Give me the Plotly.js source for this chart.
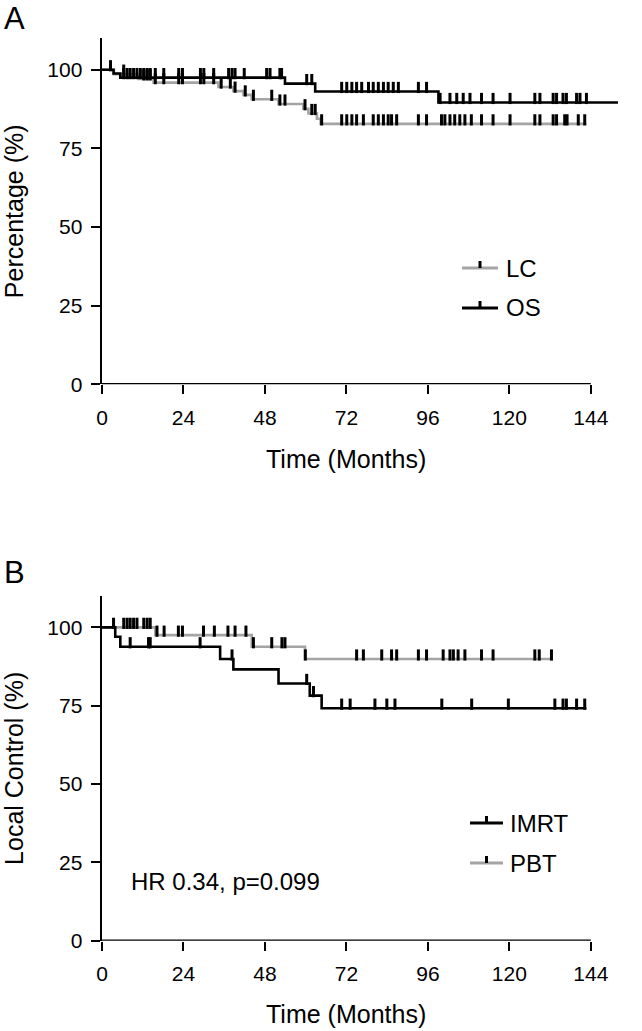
<!DOCTYPE html>
<html>
<head>
<meta charset="utf-8">
<script src="https://cdn.plot.ly/plotly-3.0.1.min.js"></script>
<style>html,body{margin:0;padding:0;background:#fff;}#chart{width:642px;height:1031px;}</style>
</head>
<body>
<div id="chart"></div>
<script>
// ---------------- DATA ----------------
// Panel A
const lcTime = [0, 3.5, 10.8, 15.2, 34.3, 38.7, 41.7, 44.1, 52.0, 59.3, 60.8, 63.3, 64.4];
const lcSurv = [100, 98.6, 97.1, 95.9, 94.5, 93.2, 92.0, 90.6, 89.1, 87.6, 86.1, 84.4, 82.8];
const lcEnd = 142.7;
const lcCensor = [6.4, 12.3, 13.3, 14.2, 15.7, 18.2, 22.6, 23.7, 29.0, 30.0, 32.9, 35.1, 37.8, 39.2, 42.2, 44.6, 50.0, 52.4, 53.9, 59.8, 61.8, 62.8, 64.7, 70.6, 72.1, 73.6, 75.0, 77.0, 79.9, 81.4, 82.9, 84.3, 85.3, 86.8, 93.2, 95.6, 100.0, 101.0, 102.5, 103.9, 105.4, 106.9, 108.8, 111.8, 115.2, 120.2, 127.5, 129.0, 132.9, 133.9, 136.3, 137.0, 140.3, 142.2];

const osTime = [0, 3.4, 5.4, 53.9, 62.8, 99.1];
const osSurv = [100, 98.8, 97.5, 95.6, 93.1, 89.6];
const osEnd = 152;
const osCensor = [2.5, 6.4, 7.4, 8.3, 9.3, 10.3, 11.3, 12.3, 13.3, 14.2, 15.7, 18.2, 22.6, 23.7, 29.0, 30.0, 32.9, 37.3, 38.3, 39.2, 41.9, 48.5, 49.5, 52.4, 52.9, 60.3, 61.8, 70.6, 72.1, 73.6, 75.0, 76.5, 78.5, 79.9, 81.4, 82.9, 84.3, 85.8, 87.3, 93.2, 95.6, 99.6, 102.5, 104.5, 106.4, 108.4, 111.8, 115.2, 120.2, 127.5, 129.0, 132.9, 133.9, 135.8, 136.8, 139.8, 140.8, 142.7];

// Panel B
const imTime = [0, 3.9, 5.4, 34.8, 38.7, 52.0, 61.2, 64.7];
const imSurv = [100, 97.0, 93.8, 89.9, 86.6, 82.1, 78.2, 74.2];
const imEnd = 142.7;
const imCensor = [8.3, 13.7, 14.2, 28.9, 38.3, 60.3, 62.3, 70.6, 73.1, 80.4, 83.9, 86.3, 100.1, 108.9, 119.7, 133.4, 135.8, 136.8, 139.8, 142.2];

const pbTime = [0, 15.7, 44.1, 59.8];
const pbSurv = [100, 97.5, 93.8, 89.9];
const pbEnd = 132.4;
const pbCensor = [3.4, 6.4, 7.4, 8.3, 9.3, 10.3, 12.3, 13.3, 14.2, 16.2, 18.3, 22.5, 23.7, 29.9, 33.1, 37.1, 39.2, 42.4, 44.6, 50.0, 53.0, 53.9, 59.9, 75.0, 77.0, 82.4, 85.3, 86.8, 93.2, 95.6, 100.5, 102.5, 103.5, 104.9, 106.9, 111.8, 115.2, 127.5, 128.8, 132.4];

const xTicks = [0, 24, 48, 72, 96, 120, 144];
const yTicks = [0, 25, 50, 75, 100];
const legendA = ["LC", "OS"];
const legendB = ["IMRT", "PBT"];
const annotB = "HR 0.34, p=0.099";
const panelLabels = ["A", "B"];
const xTitle = "Time (Months)";
const yTitleA = "Percentage (%)";
const yTitleB = "Local Control (%)";

// ---------------- HELPERS ----------------
const W = 642, H = 1031;
const ML = 102, MR = 24;
const PW = W - ML - MR;
const FONT = "Liberation Sans, Arial, Helvetica, sans-serif";
const GRAY = "#a4a4a4";
const BLACK = "#000000";
const XMAX = 152, YMAX = 110;
const domA = [1 - 384.3 / H, 1 - 38.3 / H];
const domB = [1 - 940.7 / H, 1 - 596 / H];
const px = v => (v - ML) / PW;     // figure px -> paper x
const py = v => 1 - v / H;         // figure px -> paper y

function stepXY(t, s, end) {
  const x = t.slice(), y = s.slice();
  x.push(end); y.push(s[s.length - 1]);
  return {x, y};
}
function survAt(t, s, tt) {
  let v = s[0];
  for (let i = 0; i < t.length; i++) if (t[i] <= tt) v = s[i];
  return v;
}
function pxPerUnit(dom) { return (dom[1] - dom[0]) * H / YMAX; }
const TICKH = 8;
function censorTrace(t, s, cens, xa, ya, dom) {
  const off = (TICKH / 2) / pxPerUnit(dom);
  return {
    x: cens, y: cens.map(c => survAt(t, s, c) + off),
    xaxis: xa, yaxis: ya, type: "scatter", mode: "markers", showlegend: false, hoverinfo: "skip",
    marker: {symbol: "line-ns-open", size: TICKH, color: BLACK, line: {color: BLACK, width: 3}},
    cliponaxis: false
  };
}
function lineTrace(t, s, end, color, xa, ya) {
  const p = stepXY(t, s, end);
  return {x: p.x, y: p.y, xaxis: xa, yaxis: ya, type: "scatter", mode: "lines",
    line: {shape: "hv", color: color, width: 2.6}, showlegend: false, hoverinfo: "skip"};
}

const data = [
  lineTrace(lcTime, lcSurv, lcEnd, GRAY, "x", "y"),
  lineTrace(osTime, osSurv, osEnd, BLACK, "x", "y"),
  censorTrace(lcTime, lcSurv, lcCensor, "x", "y", domA),
  censorTrace(osTime, osSurv, osCensor, "x", "y", domA),
  lineTrace(pbTime, pbSurv, pbEnd, GRAY, "x2", "y2"),
  lineTrace(imTime, imSurv, imEnd, BLACK, "x2", "y2"),
  censorTrace(pbTime, pbSurv, pbCensor, "x2", "y2", domB),
  censorTrace(imTime, imSurv, imCensor, "x2", "y2", domB)
];

function xax(anchor) {
  return {anchor: anchor, domain: [0, 1], range: [0, XMAX], tickvals: xTicks, ticktext: xTicks.map(String),
    ticks: "outside", ticklen: 9, tickwidth: 2, tickcolor: BLACK, showline: false, showgrid: false,
    zeroline: false, ticklabelstandoff: 5, tickfont: {family: FONT, size: 21, color: BLACK}, fixedrange: true};
}
function yax(anchor, dom, title) {
  return {anchor: anchor, domain: dom, range: [0, YMAX], tickvals: yTicks, ticktext: yTicks.map(String),
    ticks: "outside", ticklen: 9, tickwidth: 2, tickcolor: BLACK, showline: true, linewidth: 2.4, linecolor: BLACK,
    showgrid: false, zeroline: false, ticklabelstandoff: 4, tickfont: {family: FONT, size: 21, color: BLACK},
    title: {text: title, font: {family: FONT, size: 25, color: BLACK}, standoff: 18}, fixedrange: true};
}

const shapes = [];
const annotations = [];
// x-axis lines (0..144)
[["x", "y"], ["x2", "y2"]].forEach(([xa, ya]) => {
  shapes.push({type: "line", xref: xa, yref: ya, x0: 0, x1: xTicks[xTicks.length - 1], y0: 0, y1: 0,
    line: {color: BLACK, width: 2.4}});
});
// x titles (centred on the 0..144 axis)
annotations.push({xref: "x", yref: "paper", x: 72, y: py(459), text: xTitle, showarrow: false,
  xanchor: "center", yanchor: "middle", font: {family: FONT, size: 25, color: BLACK}});
annotations.push({xref: "x2", yref: "paper", x: 72, y: py(1014), text: xTitle, showarrow: false,
  xanchor: "center", yanchor: "middle", font: {family: FONT, size: 25, color: BLACK}});
// panel labels
annotations.push({xref: "paper", yref: "paper", x: px(2), y: py(19), text: panelLabels[0], showarrow: false,
  xanchor: "left", yanchor: "middle", font: {family: FONT, size: 31, color: BLACK}});
annotations.push({xref: "paper", yref: "paper", x: px(2), y: py(572), text: panelLabels[1], showarrow: false,
  xanchor: "left", yanchor: "middle", font: {family: FONT, size: 31, color: BLACK}});
// HR annotation
annotations.push({xref: "paper", yref: "paper", x: px(129), y: py(881), text: annotB, showarrow: false,
  xanchor: "left", yanchor: "middle", font: {family: FONT, size: 24, color: BLACK}});

// manual legends
function legendItem(label, color, x0, x1, yy, tx) {
  shapes.push({type: "line", xref: "paper", yref: "paper", x0: px(x0), x1: px(x1), y0: py(yy), y1: py(yy),
    line: {color: color, width: 3}});
  const mx = (x0 + x1) / 2;
  shapes.push({type: "line", xref: "paper", yref: "paper", x0: px(mx), x1: px(mx), y0: py(yy), y1: py(yy - 7),
    line: {color: BLACK, width: 3}});
  annotations.push({xref: "paper", yref: "paper", x: px(tx), y: py(yy), text: label, showarrow: false,
    xanchor: "left", yanchor: "middle", font: {family: FONT, size: 24, color: BLACK}});
}
legendItem(legendA[0], GRAY, 462, 498, 268, 504);
legendItem(legendA[1], BLACK, 462, 498, 308, 504);
legendItem(legendB[0], BLACK, 470, 503, 823, 508);
legendItem(legendB[1], GRAY, 470, 503, 863, 508);

const layout = {
  width: W, height: H,
  margin: {l: ML, r: MR, t: 0, b: 0},
  paper_bgcolor: "#fff", plot_bgcolor: "#fff",
  showlegend: false,
  xaxis: xax("y"),
  yaxis: yax("x", domA, yTitleA),
  xaxis2: xax("y2"),
  yaxis2: yax("x2", domB, yTitleB),
  shapes: shapes,
  annotations: annotations
};

Plotly.newPlot("chart", data, layout, {displayModeBar: false, staticPlot: true});
</script>
</body>
</html>
